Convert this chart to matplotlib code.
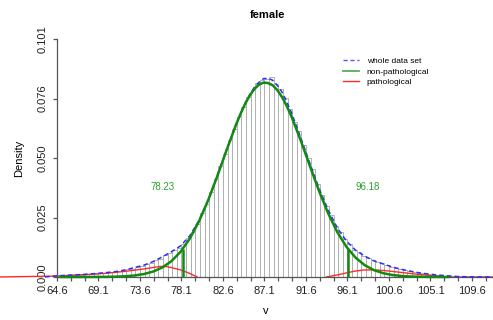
import numpy as np
import matplotlib
matplotlib.use("Agg")
import matplotlib.pyplot as plt
from matplotlib.lines import Line2D

plt.rcParams['font.family'] = ['Liberation Sans', 'DejaVu Sans']

# histogram (density), bins of width 0.5 starting at 64.6
bin_start = 64.6
bin_width = 0.5
hist_density = [
    .0004, .0006, .0005, .0008, .0009, .0010, .0012, .0011, .0014, .0016,
    .0018, .0020, .0021, .0025, .0029, .0034, .0036, .0043, .0046, .0055,
    .0060, .0072, .0078, .0094, .0100, .0115, .0125, .0140, .0165, .0192,
    .0225, .0270, .0310, .0362, .0418, .0470, .0520, .0580, .0628, .0680,
    .0720, .0765, .0792, .0822, .0838, .0842, .0849, .0820, .0800, .0760,
    .0715, .0660, .0618, .0560, .0505, .0460, .0395, .0350, .0300, .0262,
    .0218, .0190, .0160, .0142, .0115, .0105, .0090, .0082, .0072, .0065,
    .0058, .0052, .0044, .0040, .0033, .0030, .0025, .0022, .0018, .0016,
    .0012, .0010, .0008, .0006, .0004]

# whole data set density
whole_x = [63.3, 64.6, 66, 68, 70, 71, 72, 73, 74, 75, 76, 77, 78, 79, 80, 81, 82, 83,
           84, 85, 85.5, 86, 86.5, 87, 87.5, 88, 88.5, 89, 89.5, 90, 91, 92, 93, 94, 95,
           96, 97, 98, 99, 100, 101, 102, 103, 104, 105, 106, 107, 108, 109, 110, 111.9]
whole_y = [0, .0005, .0008, .0012, .0019, .0023, .0030, .0040, .0050, .0065, .0085,
           .0107, .0132, .0175, .0240, .0328, .0432, .0540, .0645, .0737, .0774, .0805,
           .0826, .0842, .0843, .0835, .0813, .0785, .0745, .0700, .0595, .0485, .0378,
           .0285, .0208, .0152, .0113, .0088, .0068, .0055, .0042, .0032, .0024, .0017,
           .0012, .0008, .0005, .0002, .0001, 0, 0]

# non-pathological component
nonpath_x = [65, 67, 69, 70, 71, 72, 73, 74, 75, 76, 77, 78, 79, 80, 81, 82, 83, 84, 84.5,
             85, 85.5, 86, 86.5, 87, 87.5, 88, 88.5, 89, 89.5, 90, 91, 92, 93, 94, 95, 96,
             97, 98, 99, 100, 101, 102, 103, 104, 105, 107]
nonpath_y = [0, .000004, .000028, .000065, .000146, .000311, .000634, .00123, .00227,
             .00399, .00669, .0107, .01628, .02361, .03264, .04298, .05395, .0645, .06926,
             .07349, .0770, .07978, .08163, .08252, .08232, .08134, .0793, .07638, .0727,
             .06835, .05828, .04735, .03666, .02704, .01901, .01273, .00812, .00494,
             .00286, .00158, .00083, .00042, .0002, .00009, .00004, 0]

# pathological components (low and high side)
path_lo_x = [58.4, 64.6, 66, 68, 70, 72, 73, 74, 75, 75.8, 76.5, 77, 78, 79, 79.8]
path_lo_y = [0, .0004, .0007, .0011, .0016, .0024, .0029, .0034, .0040, .0045, .0044,
             .0040, .0030, .0015, 0]
path_hi_x = [93.8, 94.5, 95.5, 96.9, 98.0, 99.1, 100.2, 102.0, 103.8, 105.6, 106.7, 107.5, 111.9]
path_hi_y = [0, .0005, .0013, .0025, .0030, .0030, .0027, .0019, .0011, .0005, .0001, 0, 0]

cutoffs = [78.23, 96.18]
cutoff_heights = [0.0118, 0.0118]
cutoff_labels = ["78.23", "96.18"]

ytick_vals = [0, 0.02525, 0.0505, 0.07575, 0.101]
ytick_labels = ["0.000", "0.025", "0.050", "0.076", "0.101"]
xtick_start, xtick_step, n_xticks = 64.6, 1.5, 32

fig = plt.figure(figsize=(4.93, 3.2), dpi=100)
ax = fig.add_axes([0, 0.09375, 1, 0.8125])

edges = bin_start + bin_width * np.arange(len(hist_density))
ax.bar(edges, hist_density, width=bin_width, align='edge', color='white',
       edgecolor='#b0b0b0', linewidth=0.7, zorder=1)

green = '#128a12'
red = '#ff2a2a'
blue = '#2b2bff'
ax.plot(path_lo_x, path_lo_y, color=red, lw=1.0, zorder=2)
ax.plot(path_hi_x, path_hi_y, color=red, lw=1.0, zorder=2)
ax.plot(whole_x, whole_y, color=blue, lw=1.1, dashes=(3, 2), zorder=3)
ax.plot(nonpath_x, nonpath_y, color=green, lw=1.8, zorder=4)
ax.vlines(cutoffs, 0, cutoff_heights, color=green, lw=1.8, zorder=4)

for c, lab in zip(cutoffs, cutoff_labels):
    off = -2.2 if c < 87 else 2.1
    ax.text(c + off, 0.0382, lab, color='#2ea02e', fontsize=7, ha='center', va='center')

ax.set_xlim(58.42, 111.88)
ax.set_ylim(-0.00552, 0.10484)

for s in ['top', 'right']:
    ax.spines[s].set_visible(False)
ax.spines['bottom'].set_position(('data', 0))
ax.spines['left'].set_position(('data', 64.6))
ax.spines['bottom'].set_bounds(64.6, 111.88)
ax.spines['left'].set_bounds(0, 0.101)
for s in ['bottom', 'left']:
    ax.spines[s].set_color('#555555')
    ax.spines[s].set_linewidth(0.9)

xt = xtick_start + xtick_step * np.arange(n_xticks)
ax.set_xticks(xt)
ax.set_xticklabels([f"{v:.1f}" if i % 3 == 0 else "" for i, v in enumerate(xt)])
ax.set_yticks(ytick_vals)
ax.set_yticklabels(ytick_labels, rotation=90, va='center')
ax.tick_params(axis='both', length=3, width=0.9, color='#555555', labelsize=8,
               labelcolor='#222222')
ax.tick_params(axis='x', pad=3.5)
ax.tick_params(axis='y', pad=4)

fig.text(267 / 493, 1 - 15 / 320, 'female', fontsize=8, fontweight='bold',
         ha='center', va='center')
fig.text(266 / 493, 1 - 311 / 320, 'v', fontsize=8, ha='center', va='center')
fig.text(19 / 493, 1 - 158 / 320, 'Density', fontsize=8, rotation=90,
         ha='center', va='center')

handles = [Line2D([], [], color='#5555ff', lw=1.0, dashes=(3, 2)),
           Line2D([], [], color='#55b055', lw=1.3),
           Line2D([], [], color=red, lw=1.0)]
ax.legend(handles, ['whole data set', 'non-pathological', 'pathological'],
          loc='upper left', bbox_to_anchor=(343 / 493, 1 - 57.5 / 320),
          bbox_transform=fig.transFigure, frameon=False, fontsize=6,
          handlelength=1.95, handletextpad=0.9, labelspacing=0.3,
          borderpad=0, borderaxespad=0)

fig.savefig('out.png', dpi=100)
